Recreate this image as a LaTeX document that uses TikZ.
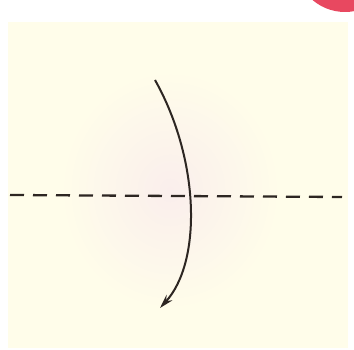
\documentclass[tikz,border=0pt]{standalone}
\usetikzlibrary{arrows.meta}
\definecolor{paper}{RGB}{255,253,234}
\definecolor{tint}{RGB}{250,238,236}
\definecolor{badge}{RGB}{232,72,96}
\definecolor{ink}{RGB}{45,38,34}
\tikzset{
  foldline/.style={line width=2.3pt, draw=ink, dash pattern=on 14pt off 9pt},
  turnarrow/.style={line width=2pt, draw=ink, -{Stealth[length=14pt,width=8pt]}}
}
\begin{document}
\begin{tikzpicture}[x=1pt,y=1pt]
\useasboundingbox (0,0) rectangle (354,-350);
\fill[white] (0,0) rectangle (354,-350);
\fill[paper] (8,-22) rectangle (348,-348);
\shade[inner color=tint, outer color=paper] (170,-190) ellipse (110 and 120);
\fill[badge] (345,38) circle (50);
\coordinate (dl) at (10,-195);
\coordinate (dr) at (342,-197);
\draw[foldline] (dl) -- (dr);
\coordinate (s) at (155,-80);
\coordinate (e) at (160,-308);
\draw[turnarrow] (s) .. controls (200,-160) and (202,-262) .. (e);
\end{tikzpicture}
\end{document}
